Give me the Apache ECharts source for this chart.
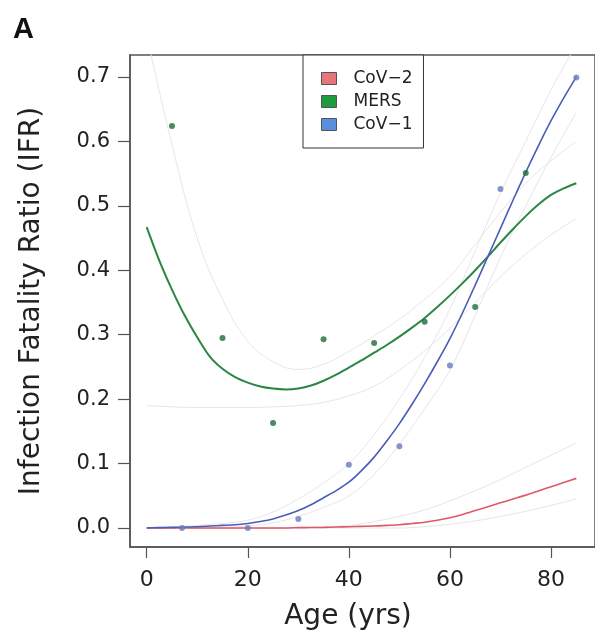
<!DOCTYPE html>
<html>
<head>
<meta charset="utf-8">
<script src="https://cdn.jsdelivr.net/npm/echarts@6/dist/echarts.min.js"></script>
<style>
html,body{margin:0;padding:0;background:#fff;}
#chart{width:595px;height:642px;}
</style>
</head>
<body>
<div id="chart"></div>
<script>
// ---- data ----
// fitted curves, ages 0..85 in steps of 2.5
const fitAges = [0,2.5,5,7.5,10,12.5,15,17.5,20,22.5,25,27.5,30,32.5,35,37.5,40,42.5,45,47.5,50,52.5,55,57.5,60,62.5,65,67.5,70,72.5,75,77.5,80,82.5,85];
const mersFit = [0.467,0.415,0.37,0.33,0.296,0.266,0.247,0.234,0.2255,0.2195,0.2163,0.215,0.2165,0.221,0.2285,0.238,0.249,0.26,0.272,0.284,0.297,0.311,0.326,0.343,0.361,0.38,0.4,0.421,0.443,0.464,0.484,0.502,0.517,0.527,0.535];
const cov1Fit = [0,0.0005,0.001,0.0015,0.002,0.003,0.004,0.005,0.007,0.01,0.014,0.02,0.027,0.036,0.047,0.058,0.071,0.089,0.11,0.135,0.162,0.192,0.224,0.258,0.294,0.334,0.377,0.421,0.465,0.509,0.552,0.593,0.632,0.667,0.7];
const cov2Fit = [0,0,0,0,0,0,0,0,0,0,0,0,0.0005,0.0007,0.001,0.0015,0.002,0.0025,0.003,0.004,0.005,0.007,0.009,0.012,0.016,0.021,0.027,0.033,0.039,0.045,0.051,0.0575,0.064,0.0705,0.077];
// confidence bands, ages 0..85 in steps of 5
const ciAges = [0,5,10,15,20,25,30,35,40,45,50,55,60,65,70,75,80,85];
const mersUpper = [0.765,0.595,0.45,0.355,0.29,0.258,0.246,0.254,0.274,0.298,0.324,0.355,0.39,0.44,0.49,0.535,0.57,0.6];
const mersLower = [0.19,0.188,0.187,0.187,0.187,0.188,0.19,0.195,0.205,0.22,0.245,0.275,0.31,0.35,0.39,0.425,0.455,0.48];
const cov1Upper = [0.001,0.002,0.004,0.007,0.012,0.025,0.045,0.07,0.1,0.145,0.2,0.265,0.34,0.43,0.52,0.6,0.68,0.75];
const cov1Lower = [0,0,0,0.001,0.003,0.008,0.018,0.032,0.05,0.083,0.13,0.185,0.245,0.33,0.42,0.5,0.575,0.645];
const cov2Upper = [0,0,0,0,0,0,0.001,0.002,0.004,0.01,0.018,0.028,0.042,0.058,0.075,0.094,0.113,0.132];
const cov2Lower = [0,0,0,0,0,0,0,0,0,0,0,0.002,0.006,0.011,0.018,0.026,0.035,0.045];
// observed points
const mersAges = [5,15,25,35,45,55,65,75];
const mersIFR = [0.624,0.295,0.163,0.293,0.287,0.32,0.343,0.551];
const cov1Ages = [7,20,30,40,50,60,70,85];
const cov1IFR = [0.0,0.0,0.014,0.098,0.127,0.252,0.526,0.699];
// ticks and names
const xTicks = [0,20,40,60,80];
const yTicks = [0,0.1,0.2,0.3,0.4,0.5,0.6,0.7];
const names = ['CoV\u22122','MERS','CoV\u22121'];

const pairs = (xs, ys) => xs.map((x, i) => [x, ys[i]]);

const chart = echarts.init(document.getElementById('chart'), null, {renderer:'canvas'});
const ciStyle = {color:'#e6e6e6', width:1};
function ci(name, ys){
  return {type:'line', name:name, data:pairs(ciAges, ys), showSymbol:false, smooth:0.4,
    lineStyle:ciStyle, silent:true, z:1};
}
const option = {
  animation:false,
  backgroundColor:'#fff',
  title:{text:'A', left:8, top:10, textStyle:{fontFamily:'Liberation Sans', fontWeight:'bold', fontSize:29, color:'#111'}},
  legend:{
    orient:'vertical', left:303, top:55, selectedMode:false,
    padding:[15,11,15,18], itemGap:6, itemWidth:15, itemHeight:12,
    borderColor:'#333', borderWidth:1, backgroundColor:'#fff',
    icon:'rect',
    textStyle:{fontFamily:'DejaVu Sans', fontSize:17, color:'#222', padding:[0,0,0,12]},
    data:[
      {name:names[0], itemStyle:{color:'#e8747c', borderColor:'#555', borderWidth:1}},
      {name:names[1], itemStyle:{color:'#1f9a3c', borderColor:'#555', borderWidth:1}},
      {name:names[2], itemStyle:{color:'#5b8fdd', borderColor:'#555', borderWidth:1}}
    ]
  },
  grid:{left:130, top:55, right:-3, bottom:95, show:true, borderColor:'#555', borderWidth:1.5, containLabel:false},
  xAxis:{
    type:'value', min:-3.3, max:88.7,
    name:'Age (yrs)', nameLocation:'middle', nameGap:56,
    nameTextStyle:{fontFamily:'DejaVu Sans', fontSize:28, color:'#222', padding:[0,29,0,0]},
    splitLine:{show:false},
    axisLine:{show:true, onZero:false, lineStyle:{color:'#555', width:1.5}},
    axisTick:{show:true, inside:false, length:11, customValues:xTicks, lineStyle:{color:'#555', width:1.2}},
    axisLabel:{customValues:xTicks, margin:22, fontFamily:'DejaVu Sans', fontSize:22, color:'#222'}
  },
  yAxis:{
    type:'value', min:-0.0295, max:0.734,
    name:'Infection Fatality Ratio (IFR)', nameLocation:'middle', nameGap:84,
    nameTextStyle:{fontFamily:'DejaVu Sans', fontSize:28, color:'#222'},
    splitLine:{show:false},
    axisLine:{show:true, onZero:false, lineStyle:{color:'#555', width:1.5}},
    axisTick:{show:true, inside:false, length:12, customValues:yTicks, lineStyle:{color:'#555', width:1.2}},
    axisLabel:{customValues:yTicks, margin:20, fontFamily:'DejaVu Sans', fontSize:21, color:'#222',
      formatter:v => v.toFixed(1)}
  },
  series:[
    ci('mersUpper', mersUpper), ci('mersLower', mersLower),
    ci('cov1Upper', cov1Upper), ci('cov1Lower', cov1Lower),
    ci('cov2Upper', cov2Upper), ci('cov2Lower', cov2Lower),
    {type:'line', name:names[0], data:pairs(fitAges, cov2Fit), showSymbol:false, smooth:0.3,
      lineStyle:{color:'#e05866', width:1.6}, itemStyle:{color:'#e8747c'}, z:3},
    {type:'line', name:names[1], data:pairs(fitAges, mersFit), showSymbol:false, smooth:0.3,
      lineStyle:{color:'#2b8646', width:2}, itemStyle:{color:'#1f9a3c'}, z:3},
    {type:'line', name:names[2], data:pairs(fitAges, cov1Fit), showSymbol:false, smooth:0.3,
      lineStyle:{color:'#4a5cb8', width:1.6}, itemStyle:{color:'#5b8fdd'}, z:3},
    {type:'scatter', name:names[1], data:pairs(mersAges, mersIFR), symbolSize:6,
      itemStyle:{color:'#1e6b3c'}, z:4},
    {type:'scatter', name:names[2], data:pairs(cov1Ages, cov1IFR), symbolSize:6,
      itemStyle:{color:'#6a7bbf'}, z:4}
  ]
};
chart.setOption(option);
</script>
</body>
</html>
